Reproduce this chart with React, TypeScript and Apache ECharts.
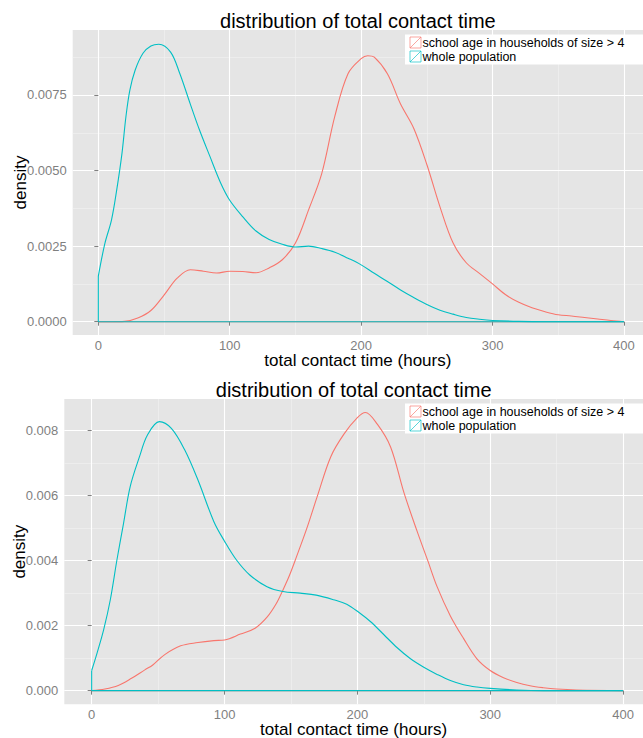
import React, { useEffect, useRef } from "react";
import * as echarts from "echarts";

const TITLE = "distribution of total contact time";
const X_TITLE = "total contact time (hours)";
const Y_TITLE = "density";
const GROUP_NAMES = ["school age in households of size > 4", "whole population"];
const COLORS = ["#F8766D", "#00BFC4"];
const FONT = "'Liberation Sans', Arial, Helvetica, sans-serif";

const X_TICKS = [0, 100, 200, 300, 400];
const X_MINOR = [50, 150, 250, 350];
const TOP_Y_TICKS = [0, 0.0025, 0.005, 0.0075];
const TOP_Y_MINOR = [0.00125, 0.00375, 0.00625, 0.00875];
const BOT_Y_TICKS = [0, 0.002, 0.004, 0.006, 0.008];
const BOT_Y_MINOR = [0.001, 0.003, 0.005, 0.007];

// top panel
const topSchoolHours = [0, 10, 20, 30, 40, 50, 60, 70, 80, 90, 100, 110, 120, 130, 140, 150, 160, 170, 180, 190, 200, 205, 210, 220, 230, 240, 250, 260, 270, 280, 290, 300, 310, 320, 330, 340, 350, 360, 370, 380, 390, 400];
const topSchoolDensity = [0, 0, 0.00001, 0.00012, 0.00037, 0.00088, 0.00144, 0.00172, 0.00167, 0.00161, 0.00167, 0.00166, 0.00162, 0.00178, 0.00205, 0.0026, 0.0037, 0.0049, 0.0068, 0.0082, 0.0087, 0.0088, 0.00875, 0.0082, 0.0072, 0.0064, 0.0052, 0.0038, 0.0026, 0.00195, 0.0016, 0.00125, 0.00089, 0.00064, 0.00046, 0.00033, 0.00023, 0.00019, 0.00014, 0.00009, 0.00004, 0];
const topPopHours = [0, 5, 10, 14, 18, 21, 24, 28, 34, 40, 46, 55, 62, 70, 77, 85, 93, 100, 110, 120, 130, 140, 150, 160, 170, 180, 190, 200, 210, 220, 230, 240, 250, 260, 270, 280, 290, 300, 320, 340, 400];
const topPopDensity = [0.00151, 0.00259, 0.00336, 0.00436, 0.00557, 0.00678, 0.00766, 0.00832, 0.00888, 0.00912, 0.00918, 0.00892, 0.00821, 0.0072, 0.00634, 0.00546, 0.0046, 0.00402, 0.00347, 0.003, 0.00272, 0.00256, 0.00247, 0.0025, 0.00242, 0.0023, 0.0021, 0.00188, 0.0016, 0.00133, 0.00105, 0.0008, 0.00057, 0.00038, 0.00025, 0.00014, 0.00008, 0.00004, 0.00001, 0, 0];

// bottom panel
const botSchoolHours = [0, 10, 20, 30, 40, 46, 55, 67, 80, 92, 100, 112, 123, 132, 139, 144, 149, 154, 162, 170, 180, 190, 200, 206, 215, 225, 235, 245, 253, 260, 270, 280, 290, 300, 310, 320, 330, 340, 350, 365, 400];
const botSchoolDensity = [0, 0.00005, 0.00016, 0.00038, 0.00064, 0.00079, 0.00111, 0.00138, 0.00148, 0.00154, 0.00156, 0.00174, 0.00192, 0.00226, 0.00268, 0.0031, 0.00356, 0.0041, 0.005, 0.006, 0.0072, 0.0079, 0.0084, 0.00856, 0.0082, 0.0075, 0.0061, 0.0049, 0.004, 0.0032, 0.0023, 0.0016, 0.00098, 0.00062, 0.0004, 0.00025, 0.00015, 0.00009, 0.00005, 0.00002, 0];
const botPopHours = [0, 4, 9, 14, 19, 24, 29, 36, 42, 51, 60, 70, 80, 92, 100, 109, 119, 132, 144, 157, 169, 182, 192, 202, 210, 220, 230, 240, 250, 260, 270, 280, 290, 300, 320, 340, 400];
const botPopDensity = [0.00062, 0.00115, 0.00187, 0.00279, 0.00402, 0.00515, 0.00628, 0.0072, 0.00787, 0.00828, 0.00807, 0.00741, 0.00648, 0.0052, 0.0046, 0.00402, 0.00356, 0.0032, 0.00305, 0.003, 0.00294, 0.0028, 0.00266, 0.00238, 0.00212, 0.00172, 0.00132, 0.00098, 0.00072, 0.0005, 0.00031, 0.00018, 0.00011, 0.00007, 0.00002, 0, 0];

const zip = (xs: number[], ys: number[]) => xs.map((x, i) => [x, ys[i]]);

function buildOption() {
  const panels = [
    {
      top: 30, height: 305, left: 72.7, xMin: -19.5, xMax: 414.5,
      yMin: -0.00044, yMax: 0.00965, yTicks: TOP_Y_TICKS, yMinor: TOP_Y_MINOR, digits: 4,
      yNameGap: 44, titleY: 21,
      school: zip(topSchoolHours, topSchoolDensity), pop: zip(topPopHours, topPopDensity),
    },
    {
      top: 399, height: 305.3, left: 64.3, xMin: -20.6, xMax: 415,
      yMin: -0.00042, yMax: 0.008975, yTicks: BOT_Y_TICKS, yMinor: BOT_Y_MINOR, digits: 3,
      yNameGap: 36, titleY: 390,
      school: zip(botSchoolHours, botSchoolDensity), pop: zip(botPopHours, botPopDensity),
    },
  ];
  const n = panels.length;
  const grid: any[] = [];
  const xAxis: any[] = [];
  const yAxis: any[] = [];
  const series: any[] = [];
  const graphic: any[] = [];

  panels.forEach((p, i) => {
    grid.push({
      left: p.left, top: p.top, right: 0, height: p.height, show: true, backgroundColor: "#E5E5E5",
      borderWidth: 0, z: 0, containLabel: false, outerBoundsMode: "none",
    });
    xAxis[i] = {
      type: "value", gridIndex: i, min: p.xMin, max: p.xMax, position: "bottom", z: 2,
      axisLine: { show: false },
      axisTick: { show: true, length: 4, lineStyle: { color: "#7F7F7F" }, customValues: X_TICKS },
      axisLabel: { show: true, color: "#7F7F7F", fontSize: 13, fontFamily: FONT, margin: 4, customValues: X_TICKS },
      splitLine: { show: true, lineStyle: { color: "#FFFFFF", width: 1.1 } },
      name: X_TITLE, nameLocation: "middle", nameGap: 16.5, nameMoveOverlap: false,
      nameTextStyle: { color: "#000000", fontSize: 17, fontFamily: FONT },
    };
    xAxis[n + i] = {
      type: "value", gridIndex: i, min: p.xMin, max: p.xMax, position: "bottom", z: 1,
      axisLine: { show: false },
      axisTick: { show: false, customValues: X_MINOR },
      axisLabel: { show: false, customValues: X_MINOR },
      splitLine: { show: true, lineStyle: { color: "#F2F2F2", width: 0.6 } },
    };
    yAxis[i] = {
      type: "value", gridIndex: i, min: p.yMin, max: p.yMax, position: "left", z: 2,
      axisLine: { show: false },
      axisTick: { show: true, length: 4, lineStyle: { color: "#7F7F7F" }, customValues: p.yTicks },
      axisLabel: {
        show: true, color: "#7F7F7F", fontSize: 13, fontFamily: FONT, margin: 6, customValues: p.yTicks,
        formatter: (v: number) => Number(v).toFixed(p.digits),
      },
      splitLine: { show: true, lineStyle: { color: "#FFFFFF", width: 1.1 } },
      name: Y_TITLE, nameLocation: "middle", nameGap: p.yNameGap, nameMoveOverlap: false,
      nameTextStyle: { color: "#000000", fontSize: 17, fontFamily: FONT },
    };
    yAxis[n + i] = {
      type: "value", gridIndex: i, min: p.yMin, max: p.yMax, position: "right", z: 1,
      axisLine: { show: false },
      axisTick: { show: false, customValues: p.yMinor },
      axisLabel: { show: false, customValues: p.yMinor },
      splitLine: { show: true, lineStyle: { color: "#F2F2F2", width: 0.6 } },
    };

    const lastSchool = p.school[p.school.length - 1][0];
    const firstPop = p.pop[0];
    const lastPop = p.pop[p.pop.length - 1][0];
    const common = { type: "line", xAxisIndex: i, yAxisIndex: i, showSymbol: false, silent: true, z: 3 };
    series.push({ ...common, name: GROUP_NAMES[0], data: p.school, smooth: 0.35, lineStyle: { color: COLORS[0], width: 1.1 }, itemStyle: { color: COLORS[0] } });
    series.push({ ...common, name: GROUP_NAMES[0] + " base", data: [[lastSchool, 0], [p.school[0][0], 0]], smooth: false, lineStyle: { color: COLORS[0], width: 1.1 } });
    series.push({ ...common, name: GROUP_NAMES[1], data: p.pop, smooth: 0.35, lineStyle: { color: COLORS[1], width: 1.1 }, itemStyle: { color: COLORS[1] } });
    series.push({ ...common, name: GROUP_NAMES[1] + " base", data: [[firstPop[0], firstPop[1]], [firstPop[0], 0], [lastPop, 0]], smooth: false, lineStyle: { color: COLORS[1], width: 1.1 } });

    const dy = p.top - 30;
    const cx = (p.left + 643) / 2;
    graphic.push({
      type: "text", x: cx, y: p.titleY, z: 10,
      style: { text: TITLE, fontSize: 20, fontFamily: FONT, fill: "#000000", align: "center", verticalAlign: "middle" },
    });
    graphic.push({ type: "rect", z: 10, shape: { x: 405, y: 34.5 + dy, width: 238, height: 30 }, style: { fill: "#FFFFFF" } });
    GROUP_NAMES.forEach((name, k) => {
      const rowY = 42.5 + dy + k * 14;
      const ky = rowY - 5.5;
      graphic.push({ type: "rect", z: 11, shape: { x: 410, y: ky, width: 11, height: 11 }, style: { fill: "none", stroke: COLORS[k], lineWidth: 1, opacity: 0.65 } });
      graphic.push({ type: "line", z: 11, shape: { x1: 410, y1: ky + 11, x2: 421, y2: ky }, style: { stroke: COLORS[k], lineWidth: 1, opacity: 0.65 } });
      graphic.push({
        type: "text", z: 12, x: 422.5, y: rowY,
        style: { text: name, fontSize: 12.5, fontFamily: FONT, fill: "#000000", align: "left", verticalAlign: "middle" },
      });
    });
  });

  return { animation: false, backgroundColor: "#FFFFFF", grid, xAxis, yAxis, series, graphic };
}

export default function App() {
  const ref = useRef<HTMLDivElement>(null);
  useEffect(() => {
    if (!ref.current) return;
    const chart = echarts.init(ref.current, undefined, { renderer: "svg" });
    chart.setOption(buildOption() as any);
    return () => chart.dispose();
  }, []);
  return <div ref={ref} style={{ position: "absolute", left: 0, top: 0, width: 643, height: 738 }} />;
}
